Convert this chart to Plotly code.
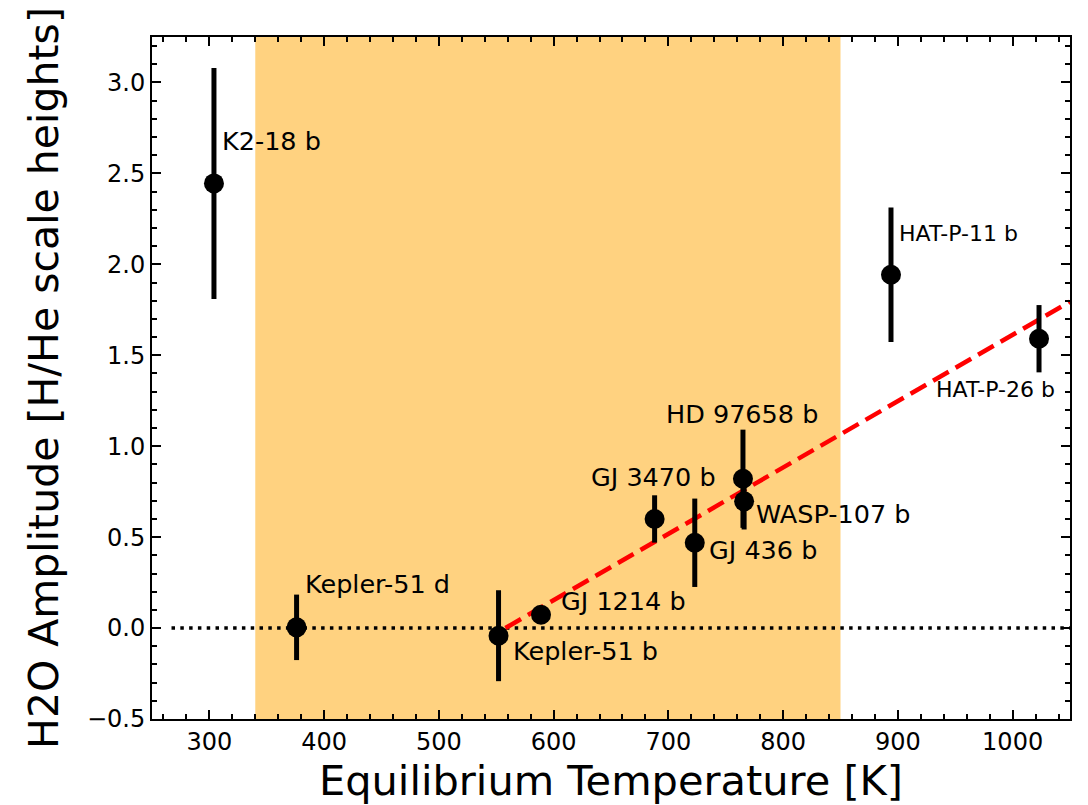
import plotly.graph_objects as go

# ---- data ----
planets = ["K2-18 b", "Kepler-51 d", "Kepler-51 b", "GJ 1214 b", "GJ 3470 b",
           "GJ 436 b", "HD 97658 b", "WASP-107 b", "HAT-P-11 b", "HAT-P-26 b"]
teq = [304, 376, 552, 589, 688, 723, 765, 766, 894, 1023]
amp = [2.445, 0.004, -0.042, 0.073, 0.600, 0.469, 0.821, 0.697, 1.943, 1.591]
err = [0.635, 0.18, 0.25, 0.0, 0.13, 0.243, 0.27, 0.155, 0.37, 0.185]

# label anchor positions (data coords) and sizes
label_T = [309.3, 381.6, 563.1, 604.4, 630.6, 733.7, 696.5, 774.9, 899.3, 931.8]
label_A = [2.678, 0.242, -0.128, 0.149, 0.828, 0.431, 1.175, 0.628, 2.172, 1.312]
label_size = [25.5, 25.5, 25.5, 25.5, 25.5, 25.5, 25.5, 25.5, 22, 22]

fit_T = [558, 1050]
fit_A = [0.0, 1.795]

zero_T = [267, 1050]
zero_A = [0.0, 0.0]

span_T = [340, 850]

x_range = [250, 1050]
y_range = [-0.5, 3.25]

FONT = "DejaVu Sans"

fig = go.Figure()

fig.add_shape(type="rect", xref="x", yref="paper", x0=span_T[0], x1=span_T[1],
              y0=0, y1=1, fillcolor="rgb(255,210,128)", line_width=0, layer="below")

fig.add_trace(go.Scatter(x=zero_T, y=zero_A, mode="lines",
                         line=dict(color="black", width=3.5, dash="3.5px,5.3px"),
                         hoverinfo="skip", showlegend=False))

fig.add_trace(go.Scatter(x=fit_T, y=fit_A, mode="lines",
                         line=dict(color="red", width=4.5, dash="18px,8px"),
                         hoverinfo="skip", showlegend=False))

fig.add_trace(go.Scatter(x=teq, y=amp, mode="markers",
                         marker=dict(color="black", size=20),
                         error_y=dict(type="data", array=err, arrayminus=err,
                                      color="black", thickness=5, width=0),
                         text=planets, showlegend=False))

for name, xt, yt, fs in zip(planets, label_T, label_A, label_size):
    fig.add_annotation(x=xt, y=yt, text=name, showarrow=False,
                       xanchor="left", yanchor="middle",
                       font=dict(family=FONT, size=fs, color="black"))

axis_common = dict(showgrid=False, zeroline=False, showline=True, linecolor="black",
                   linewidth=2, mirror="allticks", ticks="inside", ticklen=9,
                   tickwidth=1.8, tickcolor="black",
                   tickfont=dict(family=FONT, size=24, color="black"))

fig.update_xaxes(range=x_range, dtick=100, tick0=0,
                 minor=dict(ticks="inside", dtick=20, ticklen=5, tickwidth=1.5, tickcolor="black"),
                 title=dict(text="Equilibrium Temperature [K]",
                            font=dict(family=FONT, size=41.5, color="black"), standoff=8),
                 **axis_common)
fig.update_yaxes(range=y_range, dtick=0.5, tick0=0, tickformat=".1f",
                 minor=dict(ticks="inside", dtick=0.1, ticklen=5, tickwidth=1.5, tickcolor="black"),
                 title=dict(text="H2O Amplitude [H/He scale heights]",
                            font=dict(family=FONT, size=41, color="black"), standoff=16),
                 **axis_common)

fig.update_layout(width=1088, height=805, plot_bgcolor="white", paper_bgcolor="white",
                  margin=dict(l=152, r=18, t=37, b=83), showlegend=False)

fig.write_html("out.html")
